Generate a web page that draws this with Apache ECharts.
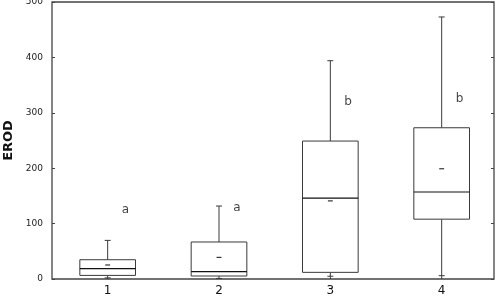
<!DOCTYPE html>
<html><head><meta charset="utf-8">
<script src="https://cdn.jsdelivr.net/npm/echarts@6/dist/echarts.min.js"></script>
<style>html,body{margin:0;padding:0;background:#fff}#c{width:498px;height:297px}</style>
</head><body><div id="c"></div>
<script>
var categories = [1, 2, 3, 4];
var whiskerLow = [2, 1, 5, 6];
var q1 = [6.5, 5.4, 12, 108];
var median = [18.6, 13.2, 146, 157];
var q3 = [34.8, 66.8, 249, 273];
var whiskerHigh = [69.7, 131.7, 394, 473];
var means = [25.3, 39, 141, 199];
var letters = ['a', 'a', 'b', 'b'];
var letterY = [125, 128.7, 319, 326];
var yTicks = [0, 100, 200, 300, 400, 500];

var boxData = categories.map(function (c, i) {
  return [c, whiskerLow[i], q1[i], median[i], q3[i], whiskerHigh[i], means[i]];
});
var letterData = categories.map(function (c, i) { return [c + 0.16, letterY[i], letters[i]]; });

var chart = echarts.init(document.getElementById('c'), null, {renderer: 'canvas'});
var lineStyle = {stroke: '#3a3a3a', lineWidth: 1};
chart.setOption({
  animation: false,
  grid: {left: 52, right: 4, top: 2, bottom: 18, show: true, borderColor: '#444', borderWidth: 1.3, backgroundColor: 'transparent', containLabel: false, outerBoundsMode: 'none'},
  xAxis: {
    type: 'value', min: 0.5, max: 4.47,
    axisLine: {show: false},
    axisTick: {show: false},
    splitLine: {show: false},
    axisLabel: {customValues: categories, color: '#111', fontSize: 12, fontFamily: 'DejaVu Sans', margin: 6, formatter: function (v) { return String(v); }}
  },
  yAxis: [{
    type: 'value', min: 0, max: 500, interval: 100,
    name: 'EROD', nameLocation: 'middle', nameGap: 32, nameRotate: 90,
    nameTextStyle: {fontSize: 13, fontWeight: 'bold', color: '#111', fontFamily: 'DejaVu Sans'},
    axisLine: {show: false},
    axisTick: {show: true, inside: true, length: 3, lineStyle: {color: '#444'}},
    splitLine: {show: false},
    axisLabel: {color: '#222', fontSize: 9, fontFamily: 'DejaVu Sans', margin: 9, customValues: yTicks}
  }, {
    type: 'value', min: 0, max: 500, interval: 100, position: 'right',
    axisLine: {show: false},
    axisTick: {show: true, inside: true, length: 3, lineStyle: {color: '#444'}},
    splitLine: {show: false},
    axisLabel: {show: false}
  }],
  series: [{
    type: 'custom',
    data: boxData,
    encode: {x: 0, y: [1, 2, 3, 4, 5, 6]},
    renderItem: function (params, api) {
      var x = api.value(0);
      var half = 0.25;
      var capHalf = 0.027;
      var meanHalf = 0.022;
      function p(dx, v) { return api.coord([x + dx, v]); }
      var lo = api.value(1), b1 = api.value(2), md = api.value(3), b3 = api.value(4), hi = api.value(5), mn = api.value(6);
      var tl = p(-half, b3), br = p(half, b1);
      var children = [
        {type: 'line', shape: {x1: p(0, hi)[0], y1: p(0, hi)[1], x2: p(0, b3)[0], y2: p(0, b3)[1]}, style: lineStyle},
        {type: 'line', shape: {x1: p(-capHalf, hi)[0], y1: p(0, hi)[1], x2: p(capHalf, hi)[0], y2: p(0, hi)[1]}, style: lineStyle},
        {type: 'line', shape: {x1: p(0, lo)[0], y1: p(0, lo)[1], x2: p(0, b1)[0], y2: p(0, b1)[1]}, style: lineStyle},
        {type: 'line', shape: {x1: p(0, 0)[0], y1: p(0, 0)[1], x2: p(0, lo)[0], y2: p(0, lo)[1]}, style: lineStyle},
        {type: 'line', shape: {x1: p(-capHalf, lo)[0], y1: p(0, lo)[1], x2: p(capHalf, lo)[0], y2: p(0, lo)[1]}, style: lineStyle},
        {type: 'rect', shape: {x: tl[0], y: tl[1], width: br[0] - tl[0], height: br[1] - tl[1]}, style: {fill: '#fff', stroke: '#3a3a3a', lineWidth: 1}},
        {type: 'line', shape: {x1: p(-half, md)[0], y1: p(0, md)[1], x2: p(half, md)[0], y2: p(0, md)[1]}, style: {stroke: '#111', lineWidth: 1.2}},
        {type: 'line', shape: {x1: p(-meanHalf, mn)[0], y1: p(0, mn)[1], x2: p(meanHalf, mn)[0], y2: p(0, mn)[1]}, style: {stroke: '#333', lineWidth: 1.2}}
      ];
      return {type: 'group', children: children};
    },
    z: 3
  }, {
    type: 'scatter',
    data: letterData,
    symbolSize: 0,
    label: {show: true, position: 'inside', formatter: function (d) { return d.value[2]; }, color: '#111', fontSize: 12, fontFamily: 'DejaVu Sans'},
    z: 4
  }]
});
</script></body></html>
